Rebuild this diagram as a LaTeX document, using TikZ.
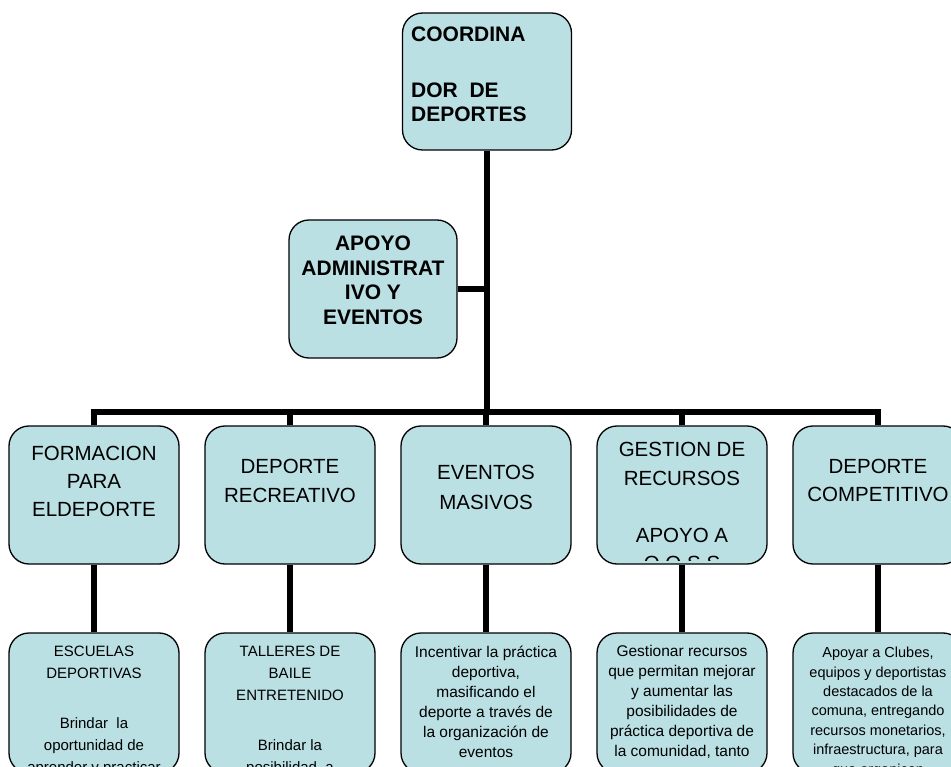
\documentclass[tikz,border=0pt]{standalone}
\usepackage{fontspec}
\setmainfont{Liberation Sans}
\usetikzlibrary{calc}
\definecolor{boxfill}{RGB}{186,224,228}
\tikzset{
  obox/.style={draw=black, line width=1.3pt, fill=boxfill, rounded corners=20pt, inner sep=0pt, minimum width=170pt, minimum height=138pt},
  conn/.style={line width=5.5pt, draw=black},
  ttl/.style={inner sep=0pt, font=\bfseries\fontsize{21}{23.5}\selectfont},
  midtxt/.style={inner sep=0pt, align=center, anchor=north, font=\fontsize{20.5}{28.5}\selectfont},
  lowa/.style={inner sep=0pt, align=center, anchor=north, font=\fontsize{15}{22}\selectfont},
  lowb/.style={inner sep=0pt, align=center, anchor=north, font=\fontsize{15.5}{20}\selectfont},
  lowc/.style={inner sep=0pt, align=center, anchor=north, font=\fontsize{14.5}{19.4}\selectfont},
}
\begin{document}
\begin{tikzpicture}[x=1pt,y=-1pt]
\useasboundingbox (0,0) rectangle (951,767);
\clip (0,0) rectangle (951,767);

% boxes
\node[obox, minimum width=169pt, minimum height=137pt] (top) at (487,81.5) {};
\node[obox, minimum width=168pt] (apoyo) at (373,289) {};
\node[obox] (f1) at (94,495) {};
\node[obox] (f2) at (290,495) {};
\node[obox] (f3) at (486,495) {};
\node[obox] (f4) at (682,495) {};
\node[obox] (f5) at (878,495) {};
\node[obox, minimum height=140pt] (b1) at (94,703) {};
\node[obox, minimum height=140pt] (b2) at (290,703) {};
\node[obox, minimum height=140pt] (b3) at (486,703) {};
\node[obox, minimum height=140pt] (b4) at (682,703) {};
\node[obox, minimum height=140pt] (b5) at (878,703) {};

% junctions
\coordinate (jC) at (487,412);

% connectors
\draw[conn] (top.south) -- (jC);
\draw[conn] (apoyo.east) -- (apoyo.east -| top.south);
\draw[conn, line join=miter] (f1.north) -- (f1.north |- jC) -- (f5.north |- jC) -- (f5.north);
\draw[conn] (f2.north) -- (f2.north |- jC);
\draw[conn] (f4.north) -- (f4.north |- jC);
\draw[conn] (f3.north) -- (f3.north |- jC);
\draw[conn] (f1.south) -- (b1.north);
\draw[conn] (f2.south) -- (b2.north);
\draw[conn] (f3.south) -- (b3.north);
\draw[conn] (f4.south) -- (b4.north);
\draw[conn] (f5.south) -- (b5.north);

% texts
\node[ttl, anchor=north west, align=left] (topt) at (411,26.5) {COORDINA\\[33pt]DOR\ \ DE\\DEPORTES};
\node[ttl, anchor=north, align=center, font=\bfseries\fontsize{21}{24.8}\selectfont] (apoyot) at (373,235.5) {APOYO\\ADMINISTRAT\\IVO Y\\EVENTOS};

\node[midtxt, font=\fontsize{20.5}{28}\selectfont] (f1t) at (94,446) {FORMACION\\PARA\\ELDEPORTE};
\node[midtxt] (f2t) at (290,459) {DEPORTE\\RECREATIVO};
\node[midtxt, font=\fontsize{20.5}{30}\selectfont] (f3t) at (486,465) {EVENTOS\\MASIVOS};
\begin{scope}
  \clip ($(f4.north west)+(4,4)$) rectangle ($(f4.south east)+(-4,-4)$);
  \node[midtxt] (f4t) at (682,442) {GESTION DE\\RECURSOS\\[28.5pt]APOYO A\\O.O.S.S};
\end{scope}
\node[midtxt, font=\fontsize{20.5}{28}\selectfont] (f5t) at (878,459) {DEPORTE\\COMPETITIVO};

\node[lowa] (b1t) at (94,646) {ESCUELAS\\DEPORTIVAS\\[28pt]Brindar\ \ la\\oportunidad de\\aprender y practicar};
\node[lowa] (b2t) at (290,646) {TALLERES DE\\BAILE\\ENTRETENIDO\\[28pt]Brindar la\\posibilidad\ \ a};
\node[lowb] (b3t) at (486,645.5) {Incentivar la práctica\\deportiva,\\masificando el\\deporte a través de\\la organización de\\eventos};
\node[lowb] (b4t) at (682,645.5) {Gestionar recursos\\que permitan mejorar\\y aumentar las\\posibilidades de\\práctica deportiva de\\la comunidad, tanto};
\node[lowc] (b5t) at (878,647) {Apoyar a Clubes,\\equipos y deportistas\\destacados de la\\comuna, entregando\\recursos monetarios,\\infraestructura, para\\que organicen};
\end{tikzpicture}
\end{document}
